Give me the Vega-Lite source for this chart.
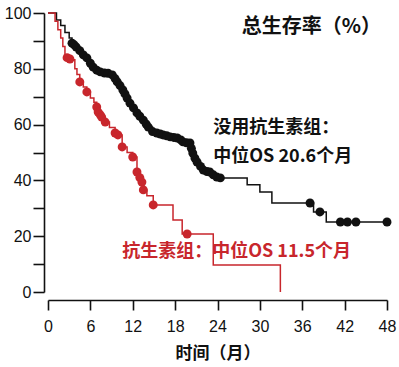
{
  "$schema": "https://vega.github.io/schema/vega-lite/v6.json",
  "width": 339,
  "height": 279,
  "autosize": {"type": "none"},
  "padding": {"left": 48, "top": 13, "right": 12, "bottom": 75},
  "background": "white",
  "config": {"view": {"stroke": null}},
  "datasets": {
    "km": [
      {"g": "没用抗生素组", "t": 0, "s": 100, "c": 0},
      {"g": "没用抗生素组", "t": 0.6, "s": 100, "c": 0},
      {"g": "没用抗生素组", "t": 1.2, "s": 97.5, "c": 0},
      {"g": "没用抗生素组", "t": 1.8, "s": 95.5, "c": 0},
      {"g": "没用抗生素组", "t": 2.4, "s": 93, "c": 0},
      {"g": "没用抗生素组", "t": 3.0, "s": 91, "c": 0},
      {"g": "没用抗生素组", "t": 3.4, "s": 89.2, "c": 1},
      {"g": "没用抗生素组", "t": 3.7, "s": 88.6, "c": 1},
      {"g": "没用抗生素组", "t": 4.0, "s": 87.8, "c": 1},
      {"g": "没用抗生素组", "t": 4.5, "s": 86.5, "c": 1},
      {"g": "没用抗生素组", "t": 5.0, "s": 85, "c": 1},
      {"g": "没用抗生素组", "t": 5.5, "s": 83.9, "c": 1},
      {"g": "没用抗生素组", "t": 6.0, "s": 82, "c": 1},
      {"g": "没用抗生素组", "t": 6.4, "s": 80.6, "c": 1},
      {"g": "没用抗生素组", "t": 6.9, "s": 79.5, "c": 1},
      {"g": "没用抗生素组", "t": 7.4, "s": 78.9, "c": 1},
      {"g": "没用抗生素组", "t": 8.0, "s": 78.5, "c": 1},
      {"g": "没用抗生素组", "t": 8.5, "s": 78.4, "c": 1},
      {"g": "没用抗生素组", "t": 9.1, "s": 77.8, "c": 1},
      {"g": "没用抗生素组", "t": 9.5, "s": 76.5, "c": 1},
      {"g": "没用抗生素组", "t": 9.8, "s": 75.3, "c": 1},
      {"g": "没用抗生素组", "t": 10.2, "s": 74, "c": 1},
      {"g": "没用抗生素组", "t": 10.6, "s": 72.4, "c": 1},
      {"g": "没用抗生素组", "t": 10.9, "s": 71, "c": 1},
      {"g": "没用抗生素组", "t": 11.2, "s": 69.5, "c": 1},
      {"g": "没用抗生素组", "t": 11.6, "s": 67.7, "c": 1},
      {"g": "没用抗生素组", "t": 12.1, "s": 66, "c": 1},
      {"g": "没用抗生素组", "t": 12.6, "s": 64.2, "c": 1},
      {"g": "没用抗生素组", "t": 13.0, "s": 63, "c": 1},
      {"g": "没用抗生素组", "t": 13.5, "s": 61.6, "c": 1},
      {"g": "没用抗生素组", "t": 13.9, "s": 60.2, "c": 1},
      {"g": "没用抗生素组", "t": 14.2, "s": 59.1, "c": 1},
      {"g": "没用抗生素组", "t": 14.8, "s": 57.5, "c": 1},
      {"g": "没用抗生素组", "t": 15.4, "s": 57, "c": 1},
      {"g": "没用抗生素组", "t": 15.9, "s": 56.6, "c": 1},
      {"g": "没用抗生素组", "t": 16.3, "s": 56.3, "c": 1},
      {"g": "没用抗生素组", "t": 16.8, "s": 56, "c": 1},
      {"g": "没用抗生素组", "t": 17.3, "s": 55.6, "c": 1},
      {"g": "没用抗生素组", "t": 17.8, "s": 55.4, "c": 1},
      {"g": "没用抗生素组", "t": 18.3, "s": 55.2, "c": 1},
      {"g": "没用抗生素组", "t": 18.8, "s": 54.5, "c": 1},
      {"g": "没用抗生素组", "t": 19.1, "s": 53.8, "c": 1},
      {"g": "没用抗生素组", "t": 19.6, "s": 53.5, "c": 1},
      {"g": "没用抗生素组", "t": 20.1, "s": 53.4, "c": 1},
      {"g": "没用抗生素组", "t": 20.3, "s": 51.5, "c": 1},
      {"g": "没用抗生素组", "t": 20.5, "s": 49.8, "c": 1},
      {"g": "没用抗生素组", "t": 20.8, "s": 48, "c": 1},
      {"g": "没用抗生素组", "t": 21.1, "s": 46.6, "c": 1},
      {"g": "没用抗生素组", "t": 21.6, "s": 45, "c": 1},
      {"g": "没用抗生素组", "t": 22.0, "s": 43.7, "c": 1},
      {"g": "没用抗生素组", "t": 22.5, "s": 43.2, "c": 1},
      {"g": "没用抗生素组", "t": 22.9, "s": 43, "c": 1},
      {"g": "没用抗生素组", "t": 23.4, "s": 42, "c": 1},
      {"g": "没用抗生素组", "t": 23.9, "s": 41.2, "c": 1},
      {"g": "没用抗生素组", "t": 24.4, "s": 40.9, "c": 1},
      {"g": "没用抗生素组", "t": 28.2, "s": 38.4, "c": 0},
      {"g": "没用抗生素组", "t": 30.0, "s": 35.8, "c": 0},
      {"g": "没用抗生素组", "t": 31.7, "s": 31.9, "c": 0},
      {"g": "没用抗生素组", "t": 37.1, "s": 31.9, "c": 1},
      {"g": "没用抗生素组", "t": 37.6, "s": 28.7, "c": 0},
      {"g": "没用抗生素组", "t": 38.5, "s": 28.7, "c": 1},
      {"g": "没用抗生素组", "t": 39.4, "s": 25.1, "c": 0},
      {"g": "没用抗生素组", "t": 41.4, "s": 25.1, "c": 1},
      {"g": "没用抗生素组", "t": 42.4, "s": 25.1, "c": 1},
      {"g": "没用抗生素组", "t": 43.6, "s": 25.1, "c": 1},
      {"g": "没用抗生素组", "t": 48, "s": 25.1, "c": 1},
      {"g": "抗生素组", "t": 0, "s": 100, "c": 0},
      {"g": "抗生素组", "t": 0.6, "s": 100, "c": 0},
      {"g": "抗生素组", "t": 1.0, "s": 97, "c": 0},
      {"g": "抗生素组", "t": 1.4, "s": 94, "c": 0},
      {"g": "抗生素组", "t": 1.8, "s": 91, "c": 0},
      {"g": "抗生素组", "t": 2.1, "s": 88, "c": 0},
      {"g": "抗生素组", "t": 2.4, "s": 85, "c": 0},
      {"g": "抗生素组", "t": 2.7, "s": 84, "c": 1},
      {"g": "抗生素组", "t": 3.1, "s": 83.5, "c": 1},
      {"g": "抗生素组", "t": 3.4, "s": 83.2, "c": 0},
      {"g": "抗生素组", "t": 3.8, "s": 80, "c": 0},
      {"g": "抗生素组", "t": 4.1, "s": 78, "c": 0},
      {"g": "抗生素组", "t": 4.5, "s": 75.3, "c": 1},
      {"g": "抗生素组", "t": 5.0, "s": 73.5, "c": 0},
      {"g": "抗生素组", "t": 5.5, "s": 71.7, "c": 1},
      {"g": "抗生素组", "t": 6.0, "s": 69.5, "c": 0},
      {"g": "抗生素组", "t": 6.5, "s": 68, "c": 0},
      {"g": "抗生素组", "t": 6.9, "s": 66.3, "c": 1},
      {"g": "抗生素组", "t": 7.1, "s": 64.5, "c": 1},
      {"g": "抗生素组", "t": 7.4, "s": 63.5, "c": 1},
      {"g": "抗生素组", "t": 7.6, "s": 62.7, "c": 1},
      {"g": "抗生素组", "t": 8.1, "s": 60.9, "c": 1},
      {"g": "抗生素组", "t": 8.7, "s": 59, "c": 0},
      {"g": "抗生素组", "t": 9.5, "s": 57, "c": 1},
      {"g": "抗生素组", "t": 9.9, "s": 56.3, "c": 1},
      {"g": "抗生素组", "t": 10.5, "s": 52, "c": 1},
      {"g": "抗生素组", "t": 11.2, "s": 50, "c": 0},
      {"g": "抗生素组", "t": 12.0, "s": 48.4, "c": 1},
      {"g": "抗生素组", "t": 12.6, "s": 43, "c": 1},
      {"g": "抗生素组", "t": 13.0, "s": 41, "c": 1},
      {"g": "抗生素组", "t": 13.3, "s": 39.4, "c": 1},
      {"g": "抗生素组", "t": 13.5, "s": 36.6, "c": 1},
      {"g": "抗生素组", "t": 14.0, "s": 34.5, "c": 0},
      {"g": "抗生素组", "t": 14.9, "s": 31.2, "c": 1},
      {"g": "抗生素组", "t": 17.7, "s": 25.8, "c": 0},
      {"g": "抗生素组", "t": 19.0, "s": 20.8, "c": 0},
      {"g": "抗生素组", "t": 19.7, "s": 20.8, "c": 1},
      {"g": "抗生素组", "t": 23.4, "s": 9.7, "c": 0},
      {"g": "抗生素组", "t": 32.9, "s": 0, "c": 0}
    ],
    "title": [{"t": 37.3, "s": 95, "label": "总生存率（%）"}],
    "blackText": [
      {"t": 23.4, "s": 58.8, "label": "没用抗生素组："},
      {"t": 23.4, "s": 48.4, "label": "中位OS 20.6个月"}
    ],
    "redText": [{"t": 10.5, "s": 14.3, "label": "抗生素组：中位OS 11.5个月"}]
  },
  "encoding": {
    "x": {
      "field": "t", "type": "quantitative",
      "scale": {"domain": [0, 48], "nice": false, "zero": false},
      "axis": {
        "values": [0, 6, 12, 18, 24, 30, 36, 42, 48],
        "title": "时间（月）",
        "offset": 8, "grid": false,
        "domainColor": "#111", "domainWidth": 1.6,
        "tickColor": "#111", "tickWidth": 1.6, "tickSize": 10,
        "labelFont": "Liberation Sans", "labelFontSize": 16, "labelColor": "#111",
        "labelPadding": 8, "labelFlush": false,
        "titleFont": "Noto Sans CJK SC", "titleFontSize": 17, "titleFontWeight": "bold",
        "titleColor": "#111", "titlePadding": 11
      }
    },
    "y": {
      "field": "s", "type": "quantitative",
      "scale": {"domain": [0, 100], "nice": false},
      "axis": {
        "values": [0, 10, 20, 30, 40, 50, 60, 70, 80, 90, 100],
        "labelExpr": "datum.value % 20 == 0 ? datum.label : ''",
        "title": null, "offset": 4, "grid": false,
        "domainColor": "#111", "domainWidth": 1.6,
        "tickColor": "#111", "tickWidth": 1.6, "tickSize": 11,
        "labelFont": "Liberation Sans", "labelFontSize": 16, "labelColor": "#111",
        "labelPadding": 2, "labelFlush": false
      }
    }
  },
  "layer": [
    {
      "data": {"name": "km"},
      "mark": {"type": "line", "interpolate": "step-after", "strokeWidth": 1.5},
      "encoding": {
        "color": {"field": "g", "type": "nominal", "legend": null,
          "scale": {"domain": ["没用抗生素组", "抗生素组"], "range": ["#111111", "#c8262c"]}},
        "order": {"field": "t", "type": "quantitative"}
      }
    },
    {
      "data": {"name": "km"},
      "transform": [{"filter": "datum.c == 1"}],
      "mark": {"type": "point", "filled": true, "size": 80, "opacity": 1},
      "encoding": {
        "color": {"field": "g", "type": "nominal", "legend": null,
          "scale": {"domain": ["没用抗生素组", "抗生素组"], "range": ["#111111", "#d8232a"]}}
      }
    },
    {
      "data": {"name": "title"},
      "mark": {"type": "text", "align": "center", "baseline": "middle", "font": "Noto Sans CJK SC", "fontSize": 20, "fontWeight": "bold", "color": "#111"},
      "encoding": {"text": {"field": "label"}}
    },
    {
      "data": {"name": "blackText"},
      "mark": {"type": "text", "align": "left", "baseline": "middle", "font": "Noto Sans CJK SC", "fontSize": 18, "fontWeight": "bold", "color": "#111"},
      "encoding": {"text": {"field": "label"}}
    },
    {
      "data": {"name": "redText"},
      "mark": {"type": "text", "align": "left", "baseline": "middle", "font": "Noto Sans CJK SC", "fontSize": 18, "fontWeight": "bold", "color": "#c8262c"},
      "encoding": {"text": {"field": "label"}}
    }
  ]
}
